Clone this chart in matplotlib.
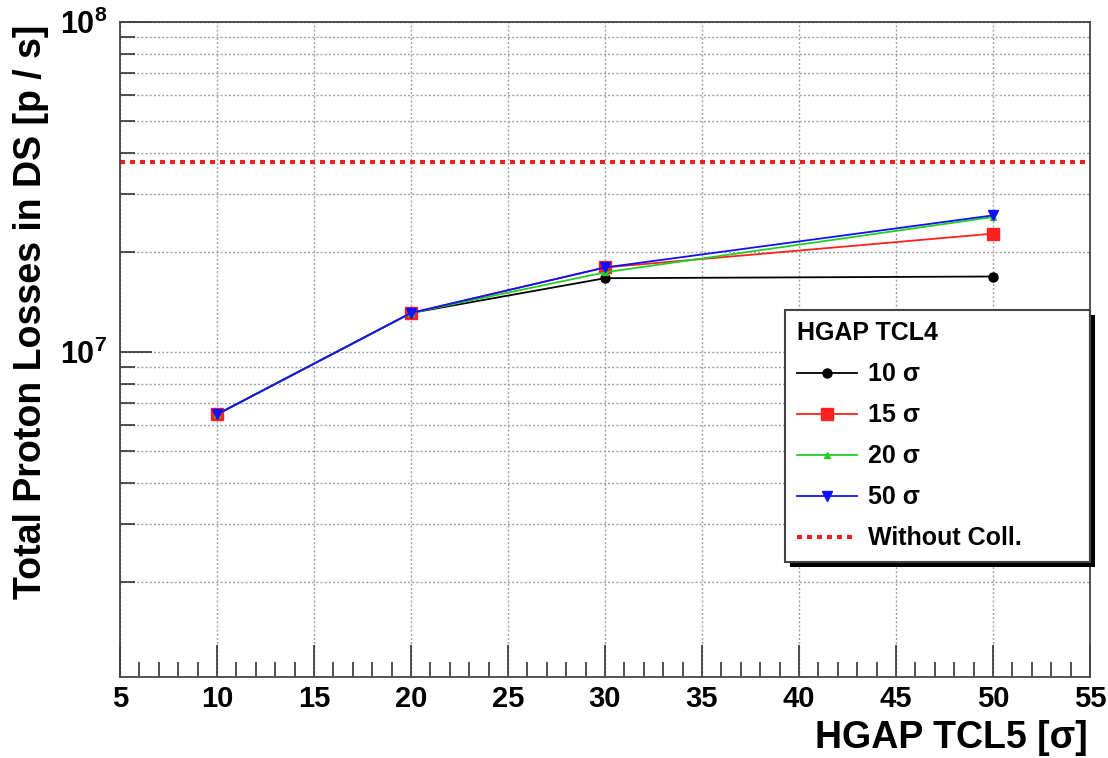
import matplotlib
matplotlib.use("Agg")
import matplotlib.pyplot as plt
from matplotlib.patches import Rectangle
from matplotlib.ticker import FixedLocator, NullFormatter, FixedFormatter

plt.rcParams['font.family'] = ['Liberation Sans', 'DejaVu Sans']
plt.rcParams['font.weight'] = 'bold'
plt.rcParams['mathtext.fontset'] = 'custom'
plt.rcParams['mathtext.rm'] = 'Liberation Sans'
plt.rcParams['mathtext.bf'] = 'Liberation Sans:bold'

# data
tcl5_gap = [10, 20, 30, 50]
losses_10 = [6.45e6, 1.31e7, 1.67e7, 1.69e7]
losses_15 = [6.45e6, 1.31e7, 1.80e7, 2.28e7]
losses_20 = [6.45e6, 1.31e7, 1.74e7, 2.56e7]
losses_50 = [6.45e6, 1.31e7, 1.80e7, 2.59e7]
without_coll = 3.75e7

series_labels = ["10 σ", "15 σ", "20 σ", "50 σ"]

fig = plt.figure(figsize=(11.08, 7.58), dpi=100)
ax = fig.add_axes([120/1108, 81/758, 970/1108, 655/758])

ax.set_yscale("log")
ax.set_xlim(5, 55)
ax.set_ylim(1.03e6, 1e8)

# ticks and grid
ax.set_axisbelow(True)
ax.xaxis.set_major_locator(FixedLocator(range(5, 56, 5)))
ax.xaxis.set_minor_locator(FixedLocator(range(5, 56, 1)))
ax.yaxis.set_major_locator(FixedLocator([1e7, 1e8]))
minors = [m * 10**e for e in (6, 7) for m in range(2, 10)]
ax.yaxis.set_minor_locator(FixedLocator(minors))
ax.yaxis.set_major_formatter(FixedFormatter([r"$\mathbf{10^{7}}$", r"$\mathbf{10^{8}}$"]))
ax.yaxis.set_minor_formatter(NullFormatter())

grid_kw = dict(color="#a0a0a0", linewidth=1.0, linestyle=(0, (1.5, 1.5)))
ax.grid(True, which="major", axis="x", **grid_kw)
ax.grid(True, which="both", axis="y", **grid_kw)

ax.tick_params(which="both", direction="in", top=False, right=False, color="#333333", width=1.2)
ax.tick_params(which="major", length=23)
ax.tick_params(which="minor", length=11)
ax.tick_params(axis="x", which="major", labelsize=21, pad=6)
ax.tick_params(axis="y", which="major", labelsize=22, pad=9)
for lab in ax.get_xticklabels():
    lab.set_fontweight("bold")

for sp in ax.spines.values():
    sp.set_color("#444444")
    sp.set_linewidth(1.3)

# series
ax.plot(tcl5_gap, losses_10, color="black", lw=1.3, marker="o", ms=6.5, label=series_labels[0])
ax.plot(tcl5_gap, losses_15, color="#ff2020", lw=1.3, marker="s", ms=8, label=series_labels[1])
ax.plot(tcl5_gap, losses_20, color="#20d020", lw=1.3, marker="^", ms=5, label=series_labels[2])
ax.plot(tcl5_gap, losses_50, color="#1010ff", lw=1.3, marker="v", ms=7.5, label=series_labels[3])
ax.axhline(without_coll, color="#e82020", lw=3, linestyle=(0, (1.2, 1.2)), label="Without Coll.")

leg = ax.legend(loc="upper left", bbox_to_anchor=(0.686, 0.179, 0.314, 0.381), mode="expand",
                title="HGAP TCL4", fontsize=18, title_fontsize=18, alignment="left",
                fancybox=False, framealpha=1, edgecolor="#444444", borderpad=0.45,
                labelspacing=0.68, handlelength=2.4, handletextpad=0.45, borderaxespad=0)
leg.get_frame().set_linewidth(1.5)
leg.get_title().set_fontweight("bold")
leg.set_zorder(10)

fig.canvas.draw()
bb = leg.get_window_extent()
(x0, y0), (x1, y1) = ax.transAxes.inverted().transform([[bb.x0, bb.y0], [bb.x1, bb.y1]])
dx, dy = 5/970, 5/655
ax.add_patch(Rectangle((x0 + dx, y0 - dy), x1 - x0, y1 - y0, transform=ax.transAxes,
                       facecolor="black", edgecolor="none", clip_on=False, zorder=9))

fig.text(31/1108, 1 - 25/758, "Total Proton Losses in DS [p / s]", rotation=90,
         ha="center", va="top", fontsize=27, fontweight="bold")
fig.text(1088/1108, 10/758, "HGAP TCL5 [σ]", ha="right", va="baseline",
         fontsize=27, fontweight="bold")

fig.savefig("out.png", dpi=100, facecolor="white")
